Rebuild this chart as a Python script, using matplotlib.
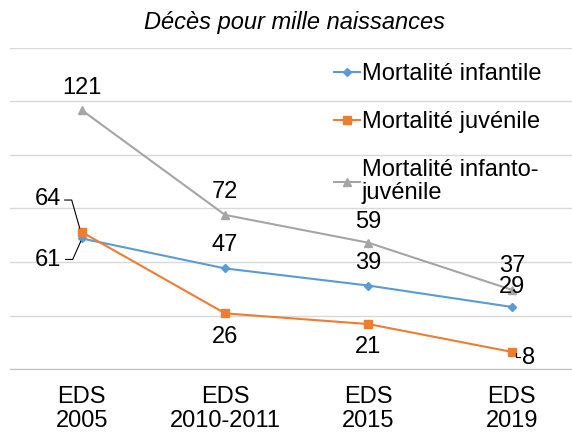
import matplotlib.pyplot as plt
from matplotlib.lines import Line2D
from matplotlib.transforms import IdentityTransform

plt.rcParams['font.family'] = ['Liberation Sans', 'DejaVu Sans']

categories = ['EDS\n2005', 'EDS\n2010-2011', 'EDS\n2015', 'EDS\n2019']
infantile = [61, 47, 39, 29]
juvenile = [64, 26, 21, 8]
infanto_juvenile = [121, 72, 59, 37]
series_names = ['Mortalité infantile', 'Mortalité juvénile', 'Mortalité infanto-\njuvénile']

fig = plt.figure(figsize=(5.72, 4.36), dpi=100)
ax = fig.add_axes([10 / 572, 1 - 369 / 436, 1 - 10 / 572, (369 - 48) / 436])

x = list(range(len(categories)))
l1, = ax.plot(x, infantile, color='#5B9BD5', marker='D', markersize=4, lw=1.5)
l2, = ax.plot(x, juvenile, color='#ED7D31', marker='s', markersize=5.5, lw=1.5)
l3, = ax.plot(x, infanto_juvenile, color='#A5A5A5', marker='^', markersize=6, lw=1.5)

ax.set_ylim(0, 150)
ax.set_xlim(-0.5, 3.42)
ax.set_yticks(range(0, 151, 25))
ax.yaxis.grid(True, color='#D9D9D9', lw=1)
ax.set_axisbelow(True)
ax.tick_params(axis='y', left=False, labelleft=False)
ax.tick_params(axis='x', length=0, labelsize=17, pad=12)
ax.set_xticks(x)
ax.set_xticklabels(categories, linespacing=1.15)
for s in ['top', 'right', 'left']:
    ax.spines[s].set_visible(False)
ax.spines['bottom'].set_color('#BFBFBF')

fs = 17
def lab(i, v, dx, dy):
    ax.annotate(str(v), (i, v), xytext=(dx, dy), textcoords='offset pixels',
                ha='center', va='center', fontsize=fs)

def leader(i, v, offsets):
    px, py = ax.transData.transform((i, v))
    xs = [px + o[0] for o in offsets]
    ys = [py + o[1] for o in offsets]
    fig.add_artist(Line2D(xs, ys, transform=IdentityTransform(), color='black', lw=0.8))

# infantile
lab(0, infantile[0], -34, -22)
leader(0, infantile[0], [(-16, -21), (-9, -21), (-1, -3)])
lab(1, infantile[1], 0, 23)
lab(2, infantile[2], 0, 23)
lab(3, infantile[3], 0, 20)
# juvenile
lab(0, juvenile[0], -34, 33)
leader(0, juvenile[0], [(-17, 32), (-10, 32), (-2, 4)])
lab(1, juvenile[1], 0, -24)
lab(2, juvenile[2], 0, -23)
lab(3, juvenile[3], 17, -6)
leader(3, juvenile[3], [(4, -1), (4, -5), (8, -5)])
# infanto-juvenile
for i, dy in zip(range(4), [22, 23, 21, 24]):
    lab(i, infanto_juvenile[i], 0, dy)

fig.text(294 / 572, 1 - 22 / 436, 'Décès pour mille naissances', ha='center', va='center',
         fontsize=17, style='italic')

leg = fig.legend([l1, l2, l3], series_names, loc='upper left', bbox_to_anchor=(334 / 572, 1 - 63 / 436),
                 frameon=False, fontsize=17, handlelength=1.1, handletextpad=0.08, labelspacing=1.1,
                 borderpad=0, borderaxespad=0)
for t in leg.get_texts():
    t.set_linespacing(1.05)

fig.savefig('out.png', dpi=100)
